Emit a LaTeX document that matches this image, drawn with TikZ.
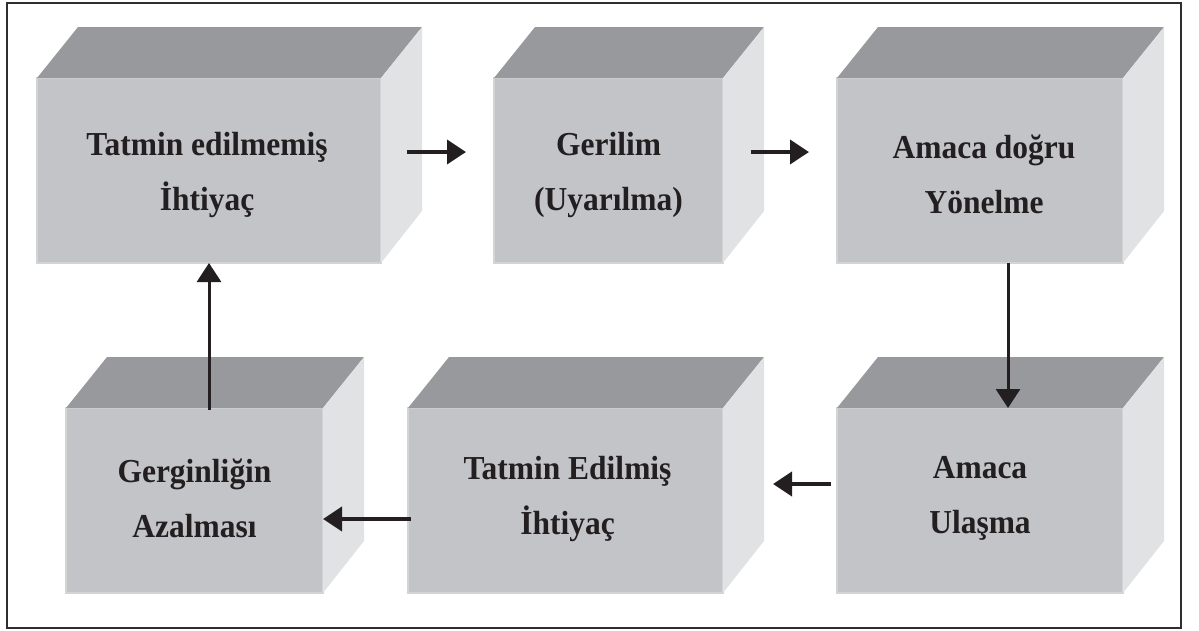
\documentclass[tikz,border=0pt]{standalone}
\usepackage{fontspec}
\setmainfont{Liberation Serif}[FakeStretch=0.94]
\usetikzlibrary{arrows.meta,calc}
\definecolor{frontgray}{HTML}{C3C4C7}
\definecolor{topgray}{HTML}{98999D}
\definecolor{sidegray}{HTML}{E1E2E4}
\definecolor{edgegray}{HTML}{D3D4D6}
\definecolor{ink}{HTML}{231F20}
\definecolor{framegray}{HTML}{2E2E2E}

% top and right faces of a box whose front face is node #1
\newcommand\cubefaces[1]{%
  \fill[topgray] (#1.north west) -- ++(41,-51) -- ($(#1.north east)+(41,-51)$) -- (#1.north east) -- cycle;
  \fill[sidegray] (#1.north east) -- ++(41,-51) -- ++(0,184) -- (#1.south east) -- cycle;
}

\begin{document}
\begin{tikzpicture}[x=1pt,y=-1pt,
  front/.style={draw=edgegray,line width=1.5pt,fill=frontgray,minimum height=185pt,
    inner sep=0pt,outer sep=0pt},
  label text/.style={align=center,text=ink,inner sep=0pt,
    font=\fontsize{33.5}{55}\selectfont\bfseries},
  flow/.style={draw=ink,line width=4pt,-{Triangle[length=19pt,width=24pt]}}]

\useasboundingbox (0,0) rectangle (1199,630);
\draw[framegray,line width=2pt] (7,3) rectangle (1181,628);

% front faces
\node[front,minimum width=344pt] (b1) at (209,170.5) {};
\node[front,minimum width=229pt] (b2) at (608.5,170.5) {};
\node[front,minimum width=286pt] (b3) at (980,170.5) {};
\node[front,minimum width=257pt] (b4) at (194.5,500.5) {};
\node[front,minimum width=315pt] (b5) at (565.5,500.5) {};
\node[front,minimum width=286pt] (b6) at (980,500.5) {};

\cubefaces{b1}
\cubefaces{b2}
\cubefaces{b3}
\cubefaces{b4}
\cubefaces{b5}
\cubefaces{b6}

% box texts
\node[label text] (t1) at ($(b1.center)+(-2,4)$) {Tatmin edilmemiş\\İhtiyaç\hspace{0.7em}};
\node[label text] (t2) at ($(b2.center)+(0,4)$) {Gerilim\\(Uyarılma)};
\node[label text] (t3) at ($(b3.center)+(4,4)$) {Amaca doğru\\Yönelme\hspace{0.4em}};
\node[label text] (t4) at ($(b4.center)+(0,-2)$) {Gerginliğin\\Azalması};
\node[label text] (t5) at ($(b5.center)+(2,-2)$) {Tatmin Edilmiş\\İhtiyaç};
\node[label text] (t6) at ($(b6.center)+(0,-2)$) {Amaca\\Ulaşma};

% connectors
\draw[flow] ($(b1.east)+(26,-18.5)$) -- ($(b2.west)+(-28,-18.5)$);
\draw[flow] ($(b2.east)+(28,-18.5)$) -- ($(b3.west)+(-28,-18.5)$);
\draw[flow,line width=3pt] ($(b3.south)+(28,0)$) -- ($(b6.north)+(28,0)$);
\draw[flow] ($(b6.west)+(-6,-16.5)$) -- ($(b5.east)+(50,-16.5)$);
\draw[flow] ($(b5.west)+(3,18.5)$) -- ($(b4.east)+(0,18.5)$);
\draw[flow,line width=3pt] ($(b4.north)+(14.5,2)$) -- (b1.south);
\end{tikzpicture}
\end{document}
